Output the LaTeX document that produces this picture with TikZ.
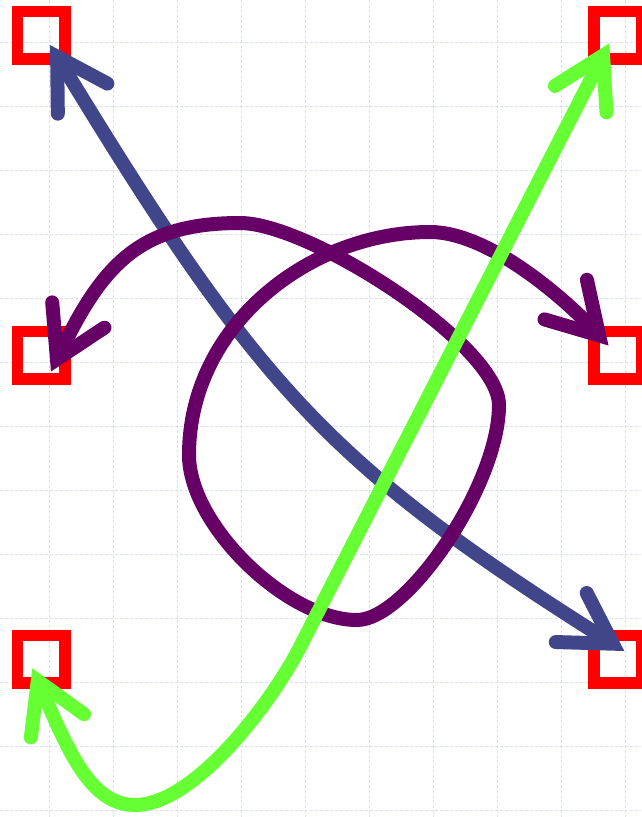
\documentclass[tikz,border=0pt]{standalone}
\usepackage{tikz}
\usetikzlibrary{arrows.meta}
\definecolor{gridblue}{RGB}{214,222,250}
\definecolor{linkblue}{RGB}{65,70,138}
\definecolor{linkpurple}{RGB}{102,0,102}
\definecolor{linkgreen}{RGB}{102,255,51}
\tikzset{spot/.style={draw=red,line width=11.5pt,minimum size=47.5pt,inner sep=0pt},grid/.style={gridblue,line width=1pt,dash pattern=on 3pt off 2pt},link/.style={line width=14pt,{Straight Barb[length=49pt,width=58pt,line cap=round]}-{Straight Barb[length=49pt,width=58pt,line cap=round]}}}

\begin{document}
\begin{tikzpicture}[x=1pt,y=-1pt]
\path[use as bounding box] (0,0) rectangle (641,817);
\foreach \i in {0,...,9} \draw[grid] (49.3+64*\i,0) -- (49.3+64*\i,817);
\foreach \j in {0,...,12} \draw[grid] (0,42.7+64*\j) -- (641,42.7+64*\j);
\node[spot] (nw) at (41.3,35.3) {};
\node[spot] (ne) at (617.5,35.3) {};
\node[spot] (w) at (41.3,355.3) {};
\node[spot] (e) at (617.5,355.3) {};
\node[spot] (sw) at (41.3,659.3) {};
\node[spot] (se) at (617.5,659.3) {};
\draw[link,linkblue] ([shift={(8.7,9.7)}]nw.center) .. controls (258,387) and (328,464) .. ([shift={(6.8,-8.3)}]se.center);
\draw[link,linkpurple] ([shift={(9.7,16.2)}]w.center) .. controls (103,264) and (140,223) .. (240,223)
  .. controls (310,223) and (499,345) .. (499,405)
  .. controls (499,485) and (407,620) .. (357,620)
  .. controls (287,620) and (189,525) .. (189,455)
  .. controls (189,325) and (310,232) .. (430,232)
  .. controls (490,232) and (567,301) .. ([shift={(-9,-9.8)}]e.center);
\draw[link,linkgreen] ([shift={(-9,9)}]sw.center) .. controls (68,750) and (90,805) .. (135,805)
  .. controls (195,805) and (272.7,700.6) .. (300,647) -- ([shift={(-8.2,8)}]ne.center);
\end{tikzpicture}
\end{document}
